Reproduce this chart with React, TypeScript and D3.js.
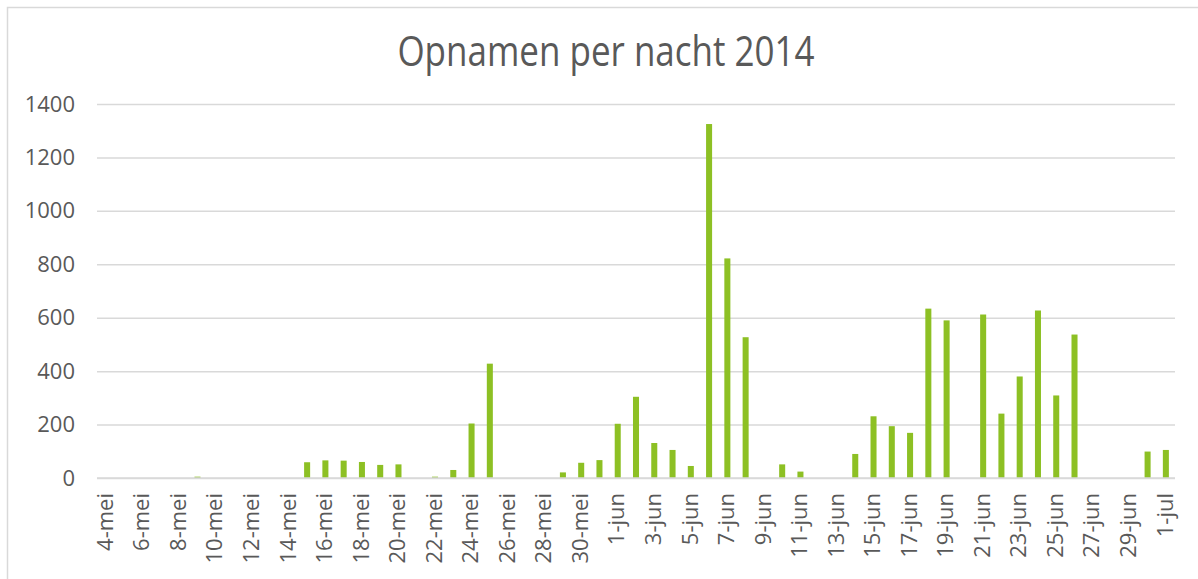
import React, { useEffect, useRef } from 'react'

import * as d3 from 'd3'

const title = 'Opnamen per nacht 2014'

const days = [
  '4-mei', '5-mei', '6-mei', '7-mei', '8-mei', '9-mei', '10-mei', '11-mei',
  '12-mei', '13-mei', '14-mei', '15-mei', '16-mei', '17-mei', '18-mei',
  '19-mei', '20-mei', '21-mei', '22-mei', '23-mei', '24-mei', '25-mei',
  '26-mei', '27-mei', '28-mei', '29-mei', '30-mei', '31-mei',
  '1-jun', '2-jun', '3-jun', '4-jun', '5-jun', '6-jun', '7-jun', '8-jun',
  '9-jun', '10-jun', '11-jun', '12-jun', '13-jun', '14-jun', '15-jun',
  '16-jun', '17-jun', '18-jun', '19-jun', '20-jun', '21-jun', '22-jun',
  '23-jun', '24-jun', '25-jun', '26-jun', '27-jun', '28-jun', '29-jun',
  '30-jun', '1-jul',
]

// opnamen per nacht
const values = [
  0, 0, 0, 0, 0, 5, 0, 0,
  0, 0, 0, 59, 66, 65, 60,
  49, 51, 0, 5, 30, 204, 428,
  0, 0, 0, 21, 57, 67,
  203, 304, 131, 105, 45, 1325, 822, 527,
  0, 51, 24, 0, 0, 90, 231,
  194, 169, 634, 590, 0, 612, 241,
  380, 627, 309, 537, 0, 0, 0,
  99, 105,
]

const yTicks = [0, 200, 400, 600, 800, 1000, 1200, 1400]

const App = () => {
  const svgRef = useRef<SVGSVGElement>(null)

  useEffect(() => {
    if (!svgRef.current) return

    const w = 1198
    const h = 579
    const margin = { top: 104, right: 23, bottom: 101, left: 97 }
    const textColor = '#595959'
    const gridColor = '#d9d9d9'
    const barColor = '#8dc024'
    const font = '"Open Sans", "Noto Sans", sans-serif'

    const x = d3
      .scaleBand<string>()
      .domain(days)
      .range([margin.left, w - margin.right])
      .paddingInner(0.67)
      .paddingOuter(0.335)
    const y = d3
      .scaleLinear()
      .domain([0, 1400])
      .range([h - margin.bottom, margin.top])

    const svg = d3
      .select(svgRef.current)
      .attr('width', w)
      .attr('height', h)
      .attr('viewBox', [0, 0, w, h].join(' '))

    // chart frame
    svg
      .append('rect')
      .attr('x', 7.5)
      .attr('y', 7.5)
      .attr('width', w + 20)
      .attr('height', h + 20)
      .attr('fill', '#fff')
      .attr('stroke', gridColor)
      .attr('stroke-width', 1.5)

    // title font in the original is taller than Open Sans, so stretch it a bit
    svg
      .append('text')
      .attr('transform', 'translate(606,66) scale(1,1.2)')
      .attr('text-anchor', 'middle')
      .attr('fill', textColor)
      .attr('font-family', font)
      .attr('font-size', 35)
      .text(title)

    // gridlines + y labels
    const yAxis = d3
      .axisLeft(y)
      .tickValues(yTicks)
      .tickFormat(d3.format('d'))
      .tickSize(-(w - margin.left - margin.right))
      .tickPadding(22)
    svg
      .append('g')
      .attr('transform', `translate(${margin.left},0)`)
      .call(yAxis)
      .call((g) => g.select('.domain').remove())
      .call((g) =>
        g
          .selectAll('.tick line')
          .attr('stroke', gridColor)
          .attr('stroke-width', 1.5),
      )
      .call((g) =>
        g
          .selectAll('.tick text')
          .attr('fill', textColor)
          .attr('font-family', font)
          .attr('font-size', 22),
      )

    // bars
    svg
      .append('g')
      .selectAll('rect')
      .data(values)
      .join('rect')
      .attr('x', (d, i) => x(days[i]) as number)
      .attr('y', (d) => y(d))
      .attr('width', x.bandwidth())
      .attr('height', (d) => y(0) - y(d))
      .attr('fill', barColor)

    // x labels, every second day
    const xAxis = d3
      .axisBottom(x)
      .tickValues(days.filter((d, i) => i % 2 === 0))
      .tickSize(0)
    svg
      .append('g')
      .attr('transform', `translate(0,${h - margin.bottom})`)
      .call(xAxis)
      .call((g) => g.select('.domain').remove())
      .call((g) =>
        g
          .selectAll('.tick text')
          .attr('fill', textColor)
          .attr('font-family', font)
          .attr('font-size', 22)
          .attr('text-anchor', 'end')
          .attr('transform', 'translate(-1,15) rotate(-90)')
          .attr('x', 0)
          .attr('y', 0)
          .attr('dy', '0.35em'),
      )

    // baseline on top of bars
    svg
      .append('line')
      .attr('x1', margin.left)
      .attr('x2', w - margin.right)
      .attr('y1', y(0))
      .attr('y2', y(0))
      .attr('stroke', gridColor)
      .attr('stroke-width', 1.5)

    return () => {
      svg.selectAll('*').remove()
    }
  }, [])

  return (
    <svg
      ref={svgRef}
      style={{ position: 'absolute', left: 0, top: 0, display: 'block' }}
    />
  )
}

export default App
